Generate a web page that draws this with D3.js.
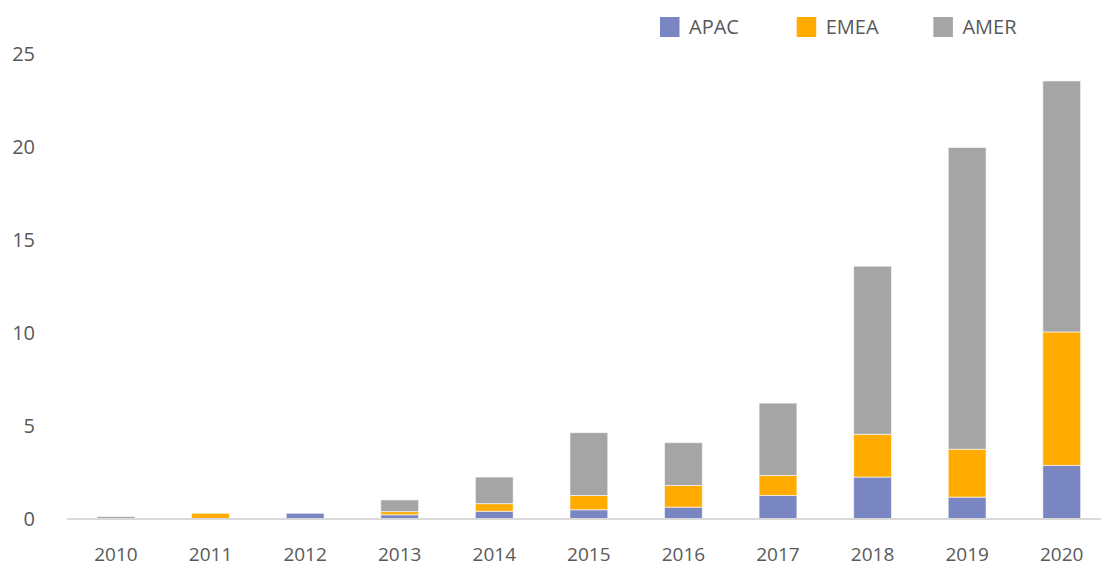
<!DOCTYPE html>
<html>
<head>
<meta charset="utf-8">
<script src="https://cdn.jsdelivr.net/npm/d3@7"></script>
<style>
  body { margin: 0; background: #fff; }
  text { font-family: "Open Sans", "Noto Sans", sans-serif; fill: #595959; }
</style>
</head>
<body>
<div id="chart"></div>
<script>
// values
const years = ["2010", "2011", "2012", "2013", "2014", "2015", "2016", "2017", "2018", "2019", "2020"];
const regions = ["APAC", "EMEA", "AMER"];
const apac = [0, 0, 0.28, 0.2, 0.39, 0.47, 0.61, 1.24, 2.23, 1.15, 2.86];
const emea = [0, 0.28, 0, 0.17, 0.41, 0.77, 1.17, 1.08, 2.30, 2.58, 7.18];
const amer = [0.1, 0, 0, 0.63, 1.43, 3.38, 2.30, 3.89, 9.05, 16.24, 13.51];
const yTicks = [0, 5, 10, 15, 20, 25];

const colors = { APAC: "#7986c1", EMEA: "#ffab00", AMER: "#a5a5a5" };

const config = {
  width: 1101,
  height: 567,
};

// table for d3.stack
const table = years.map((y, i) => ({ year: y, APAC: apac[i], EMEA: emea[i], AMER: amer[i] }));

const svg = d3
  .select("#chart")
  .append("svg")
  .attr("width", config.width)
  .attr("height", config.height);

const xScale = d3.scaleBand()
  .domain(years)
  .range([68.7, 1109])
  .paddingInner(0.6)
  .paddingOuter(0.3);

const yScale = d3.scaleLinear().domain([0, 25]).range([518.5, 54]);

const series = d3.stack().keys(regions)(table);

// y tick labels (no axis line, no gridlines)
svg.append("g")
  .selectAll("text")
  .data(yTicks)
  .join("text")
  .attr("x", 35)
  .attr("y", (d) => yScale(d))
  .attr("dy", "0.35em")
  .attr("text-anchor", "end")
  .style("font-size", "20px")
  .text((d) => d);

// bars
svg.append("g")
  .selectAll("g")
  .data(series)
  .join("g")
  .attr("fill", (s) => colors[s.key])
  .selectAll("rect")
  .data((s) => s.filter((d) => d[1] - d[0] > 0))
  .join("rect")
  .attr("x", (d) => xScale(d.data.year))
  .attr("y", (d) => yScale(d[1]))
  .attr("width", xScale.bandwidth())
  .attr("height", (d) => yScale(d[0]) - yScale(d[1]))
  .attr("stroke", "#fff")
  .attr("stroke-opacity", 0.6)
  .attr("stroke-width", 1);

// x axis
const xAxis = d3.axisBottom(xScale).tickSize(0).tickPadding(0);
const xAxisGroup = svg.append("g")
  .attr("transform", `translate(0, ${yScale(0)})`)
  .call(xAxis);
xAxisGroup.select(".domain").remove();
xAxisGroup.selectAll("text")
  .attr("y", 42.5)
  .attr("dy", 0)
  .style("font-size", "19px")
  .style("font-family", '"Open Sans", "Noto Sans", sans-serif')
  .attr("fill", "#595959");

svg.append("line")
  .attr("x1", 67)
  .attr("x2", config.width)
  .attr("y1", yScale(0) + 0.5)
  .attr("y2", yScale(0) + 0.5)
  .attr("stroke", "#d9d9d9")
  .attr("stroke-width", 2);

// legend
const legend = svg.append("g")
  .selectAll("g")
  .data(regions)
  .join("g")
  .attr("transform", (d, i) => `translate(${660 + i * 136.7}, 17)`);

legend.append("rect")
  .attr("width", 19.5)
  .attr("height", 20)
  .attr("fill", (d) => colors[d]);

legend.append("text")
  .attr("x", 29)
  .attr("y", 10)
  .attr("dy", "0.35em")
  .style("font-size", "20px")
  .text((d) => d);
</script>
</body>
</html>
